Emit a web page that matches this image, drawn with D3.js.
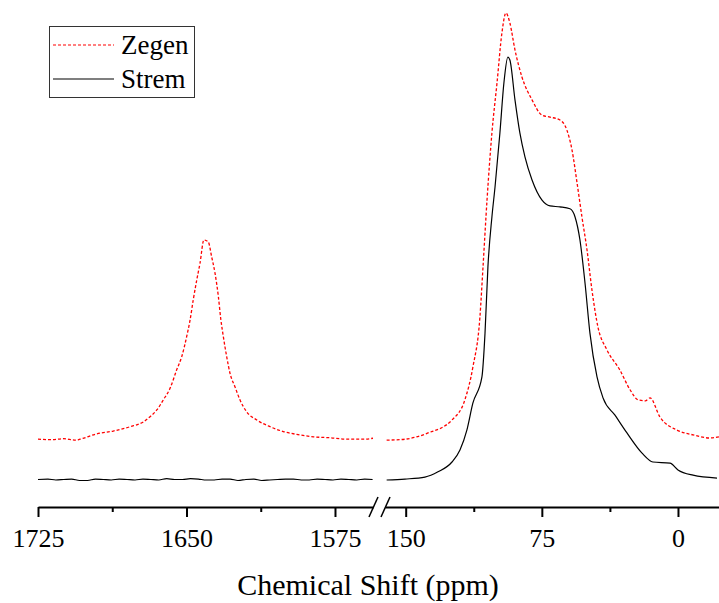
<!DOCTYPE html>
<html>
<head>
<meta charset="utf-8">
<script src="https://cdn.jsdelivr.net/npm/d3@7"></script>
<style>
body { margin: 0; background: #fff; }
svg text { font-family: "Liberation Serif", "Times New Roman", serif; fill: #000; }
</style>
</head>
<body>
<svg id="chart" width="719" height="603"></svg>
<script>
// left (high ppm) region, [ppm, intensity]
var zegenLeft = [[1725,8.5],[1718,8.4],[1712,8.6],[1706,8.3],[1703.8,8.5],[1695.4,9.6],[1687,10.2],[1678.5,11.1],[1671.8,12.1],
  [1668.4,13.2],[1665,14.6],[1661.7,16.7],[1658.3,19.1],[1655,22.9],[1652.4,25.7],[1649.9,29.9],[1648.2,33.3],[1646.6,37.5],
  [1644.8,41.7],[1643.2,45.1],[1641.2,50],[1639,49.6],[1637.3,46.5],[1635.6,43.1],[1633.9,38.2],[1632.7,33.6],[1631.4,29.9],
  [1629.7,25.7],[1628,22.2],[1625.5,19.4],[1623,16.7],[1619.6,14.2],[1614.5,12.5],[1607.8,11.1],[1601.1,10.1],[1594.3,9.5],
  [1585.9,9],[1577.5,8.8],[1569.1,8.5],[1560.7,8.5],[1555.8,8.7]];
var stremLeft = [[1725,0.1],[1720,0.2],[1716,0.0],[1712,0.1],[1708,0.2],[1704,-0.1],[1700,-0.1],[1696,0.2],[1692,0.1],[1688,0.0],
  [1684,0.2],[1680,0.1],[1676,0.0],[1672,0.2],[1668,0.1],[1664,0.0],[1660,0.3],[1656,0.1],[1652,0.1],[1648,0.3],[1644,0.2],
  [1640,0.0],[1636,0.0],[1632,0.2],[1628,0.2],[1624,-0.1],[1620,0.1],[1616,0.2],[1612,-0.1],[1608,0.0],[1604,0.1],[1600,0.2],
  [1596,0.2],[1592,0.0],[1588,0.0],[1584,0.2],[1580,0.1],[1576,0.0],[1572,0.2],[1568,0.1],[1564,0.0],[1560,0.2],[1556,0.1]];

// right (low ppm) region, [ppm, intensity]
var zegenRight = [[160.5,8.3],[150.4,8.5],[137.7,9.8],[124.5,12.5],[117.4,16.7],[113,23.5],[109.1,34],[107.4,44.4],[105.2,58.3],
  [102.5,72.3],[99.7,82.7],[97,93.1],[94.8,97.3],[92.6,95.2],[89.8,89.6],[86,84],[80.4,79.2],[74.9,76],[70.5,75.6],[65,75],
  [61.2,72.9],[58.4,68.8],[55.6,61.9],[52.9,54.8],[50.1,47.9],[47.4,39.6],[44.1,31.9],[39.1,27.1],[32,22.9],[26.4,18.8],[22,16.7],
  [18,16.5],[15.4,17.1],[9.9,13.1],[0.6,10.4],[-8.3,9.4],[-17.6,8.75],[-22.6,9]];
var stremRight = [[160.5,0],[150.4,0.2],[139.4,0.6],[132.2,1.7],[124.5,3.75],[120.1,6.25],[116.3,10.4],[113,16],[108,21.5],
  [106.3,30.6],[104.7,44.4],[102.5,54.8],[100.8,61],[98.1,72.3],[95.9,82.7],[93.7,88.1],[92.6,87.5],[89.8,79.2],[87.1,72.3],
  [84.3,67.3],[80.4,62.5],[74.9,58.3],[70.5,57.1],[65,56.9],[59.5,56.5],[56.7,54.8],[54,50],[51.2,41],[48.5,30.6],[44.6,21.5],
  [41.3,17.1],[34.7,13.5],[28.1,9.8],[19.8,5.6],[13.8,3.75],[4.4,3.5],[0,2.1],[-8.3,1],[-21.5,0.4]];

var leftTicks = [1725, 1650, 1575];
var leftMinor = [1687.5, 1612.5];
var rightTicks = [150, 75, 0];
var rightMinor = [112.5, 37.5];
var seriesNames = ["Zegen", "Strem"];

var svg = d3.select("#chart");
var axisY = 507;

var xLeft = d3.scaleLinear().domain([1725, 1555.8]).range([38, 373]);
var xRight = d3.scaleLinear().domain([161.4, -22.6]).range([385, 719]);
var yScale = d3.scaleLinear().domain([0, 100]).range([480, 0]);

function drawLine(data, x, dashed) {
    var line = d3.line()
        .x(d => x(d[0]))
        .y(d => yScale(d[1]))
        .curve(d3.curveMonotoneX);
    svg.append("path")
        .datum(data)
        .attr("d", line)
        .attr("fill", "none")
        .attr("stroke", dashed ? "#ff0000" : "#000")
        .attr("stroke-width", dashed ? 1.3 : 1.2)
        .attr("stroke-dasharray", dashed ? "3,2" : null);
}

drawLine(stremLeft, xLeft, false);
drawLine(stremRight, xRight, false);
drawLine(zegenLeft, xLeft, true);
drawLine(zegenRight, xRight, true);

// axes
function drawAxis(x, major, minor) {
    var g = svg.append("g").attr("transform", "translate(0," + axisY + ")");
    g.call(d3.axisBottom(x).tickValues(major).tickSize(10).tickSizeOuter(0).tickFormat(d3.format("d")).tickPadding(11.5));
    var m = svg.append("g").attr("transform", "translate(0," + axisY + ")");
    m.call(d3.axisBottom(x).tickValues(minor).tickSize(5).tickSizeOuter(0).tickFormat(""));
    m.select(".domain").remove();
    [g, m].forEach(s => {
        s.selectAll("path, line").attr("stroke", "#000").attr("stroke-width", 2);
        s.selectAll("text").style("font-family", "Liberation Serif, serif").style("font-size", "26px").attr("fill", "#000");
    });
}
drawAxis(xLeft, leftTicks, leftMinor);
drawAxis(xRight, rightTicks, rightMinor);

// axis break marks
[[369, 378], [381, 390]].forEach(p => {
    svg.append("line")
        .attr("x1", p[0]).attr("y1", axisY + 10)
        .attr("x2", p[1]).attr("y2", axisY - 10)
        .attr("stroke", "#000").attr("stroke-width", 1.5);
});

svg.append("text")
    .attr("x", 368).attr("y", 595)
    .attr("text-anchor", "middle")
    .style("font-size", "30px")
    .text("Chemical Shift (ppm)");

// legend
var legend = svg.append("g");
legend.append("rect")
    .attr("x", 49.5).attr("y", 26.5).attr("width", 145).attr("height", 71)
    .attr("fill", "#fff").attr("stroke", "#333").attr("stroke-width", 1);
seriesNames.forEach((name, i) => {
    var yy = 45 + i * 34;
    legend.append("line")
        .attr("x1", 53).attr("x2", 114).attr("y1", yy).attr("y2", yy)
        .attr("stroke", i == 0 ? "#ff0000" : "#000")
        .attr("stroke-width", 1.2)
        .attr("stroke-dasharray", i == 0 ? "3,2" : null);
    legend.append("text")
        .attr("x", 121).attr("y", yy + 9)
        .style("font-size", "27px")
        .text(name);
});
</script>
</body>
</html>
